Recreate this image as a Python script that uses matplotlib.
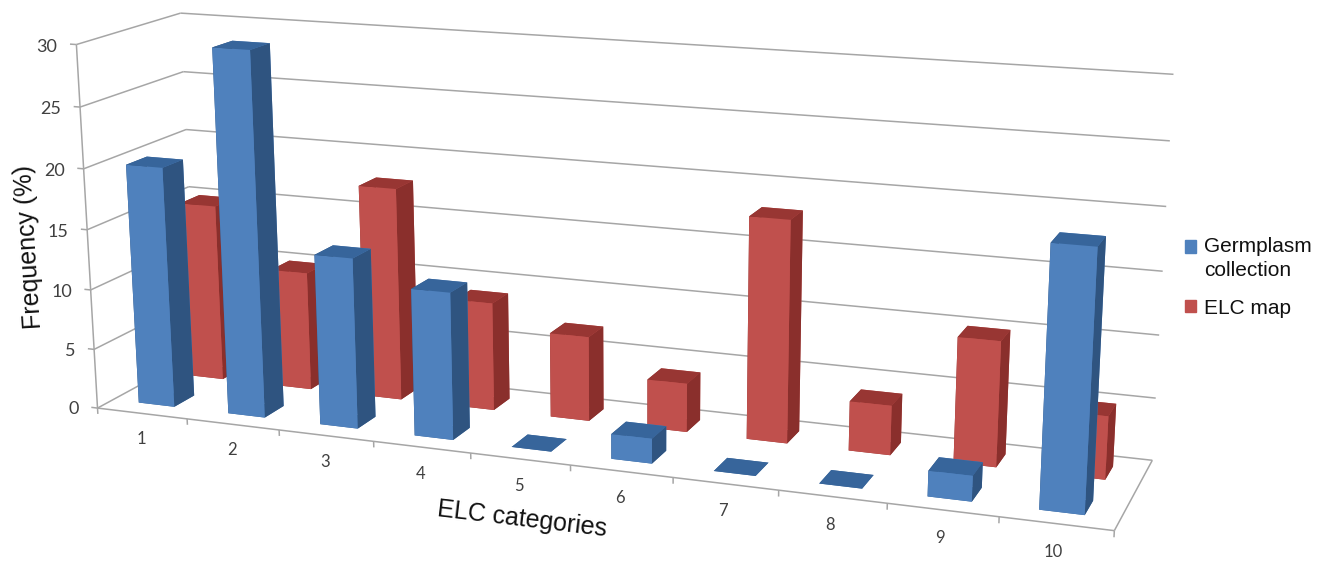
import numpy as np
import matplotlib
matplotlib.use("Agg")
import matplotlib.pyplot as plt
from matplotlib.patches import Patch
from mpl_toolkits.mplot3d.art3d import Line3DCollection

# Frequency (%) of each ELC category for the two series
categories = ["1", "2", "3", "4", "5", "6", "7", "8", "9", "10"]
germplasm = [20, 30, 14, 12, 0, 2, 0, 0, 2, 20]
elc_map = [15, 10, 17.8, 9, 7, 4, 18, 4, 10, 5]
value_ticks = [0, 5, 10, 15, 20, 25, 30]

W, H = 1323, 569
BLUE = {"front": "#4F81BD", "side": "#2F5480", "top": "#37659B"}
RED = {"front": "#C0504D", "side": "#8A2F2C", "top": "#983633"}
GRID = "#A6A6A6"
BAR_W, BAR_D = 0.40, 0.20
BAR_X, BLUE_Y, RED_Y = 0.29, 0.15, 0.65

# Camera calibration: box corners (category, depth, value) and where they fall in pixels
view_world = np.array([
    (0, 0, 30), (0, 1, 30), (0, 0, 0), (0, 1, 0), (10, 1, 30), (10, 1, 0),
    (10, 0, 0), (0, 0, 15), (10, 1, 15), (0, 1, 20), (0, 0, 20), (10, 1, 20),
], float)
view_px = np.array([
    (76, 45), (180, 13), (97, 408), (197, 355), (1173, 75), (1152, 459),
    (1114, 532), (87, 229), (1163, 271), (186, 130), (85, 168), (1167, 206),
], float)


def fit_camera(world, px):
    rows = []
    for (x, y, z), (u, v) in zip(world, px / 1000):
        rows.append([x, y, z, 1, 0, 0, 0, 0, -u * x, -u * y, -u * z, -u])
        rows.append([0, 0, 0, 0, x, y, z, 1, -v * x, -v * y, -v * z, -v])
    cam = np.linalg.svd(np.array(rows))[2][-1].reshape(3, 4)
    cam[:2] *= 1000
    if cam[2] @ np.array([5, 0.5, 15, 1]) < 0:
        cam = -cam
    return cam


cam = fit_camera(view_world, view_px)
# Depth row gives -1/w, which grows with distance from the camera
proj_matrix = np.vstack([cam[0], cam[1], [0, 0, 0, -1], cam[2]])


def fig_position(x, y, z):
    # Figure-fraction position of a point in the chart's box
    u, v, w = cam @ np.array([x, y, z, 1.0])
    return (u / w) / W, 1 - (v / w) / H


fig = plt.figure(figsize=(W / 100, H / 100), dpi=100, facecolor="white")
ax = fig.add_axes([0, 0, 1, 1], projection="3d", computed_zorder=False)
ax.set_axis_off()
ax.get_proj = lambda: proj_matrix
ax.apply_aspect = lambda *args, **kwargs: None
ax.viewLim.intervalx = (0, W)
ax.viewLim.intervaly = (H, 0)

n = len(categories)
# Walls, floor and tick marks
frame = []
for v in value_ticks:
    frame.append([(0, 0, v), (0, 1, v)])
    frame.append([(0, 1, v), (n, 1, v)])
    frame.append([(-0.07, 0, v), (0, 0, v)])
frame.append([(0, 0, 0), (0, 0, value_ticks[-1])])
frame.append([(0, 0, 0), (n, 0, 0)])
frame.append([(n, 0, 0), (n, 1, 0)])
for k in range(n + 1):
    frame.append([(k, 0, 0), (k, 0, -0.5)])
ax.add_collection3d(Line3DCollection(frame, colors=GRID, linewidths=1.1, zorder=1))


def draw_bar(i, value, y0, palette, order):
    # Face order in bar3d: bottom, top, front, back, left, right
    faces = [palette["top"], palette["top"], palette["front"],
             palette["front"], palette["side"], palette["side"]]
    ax.bar3d(i + BAR_X, y0, 0, BAR_W, BAR_D, value, color=faces, shade=False,
             edgecolor="none", zorder=order)


# Painted from far to near: back row first, right to left within a row
order = 2
for i in reversed(range(n)):
    draw_bar(i, elc_map[i], RED_Y, RED, order)
    order += 1
for i in reversed(range(n)):
    draw_bar(i, germplasm[i], BLUE_Y, BLUE, order)
    order += 1

for v in value_ticks:
    fx, fy = fig_position(-0.21, 0, v - 0.3)
    fig.text(fx, fy, str(v), ha="right", va="center", fontsize=13,
             family="Lato", color="#404040")
for i, label in enumerate(categories):
    fx, fy = fig_position(i + 0.48, 0, -2.2)
    fig.text(fx, fy, label, ha="center", va="center", fontsize=12,
             family="Lato", color="#404040")

fig.text(29 / W, 1 - 247 / H, "Frequency (%)", rotation=93.5, rotation_mode="anchor",
         ha="center", va="center", fontsize=18, family="Liberation Sans", color="#111111")
fig.text(522 / W, 1 - 519 / H, "ELC categories", rotation=-6.8, rotation_mode="anchor",
         ha="center", va="center", fontsize=18, family="Liberation Sans", color="#111111")

handles = [Patch(color=BLUE["front"], label="Germplasm\ncollection"),
           Patch(color=RED["front"], label="ELC map")]
legend = ax.legend(handles=handles, loc="upper left", bbox_to_anchor=(1185 / W, 1 - 237 / H),
                   bbox_transform=fig.transFigure, frameon=False,
                   prop={"family": "Liberation Sans", "size": 15},
                   handlelength=0.55, handleheight=0.55,
                   handletextpad=0.35, labelspacing=0.88, borderpad=0, borderaxespad=0,
                   labelcolor="#111111")
for text in legend.get_texts():
    text.set_linespacing(1.35)
# The marker of the two-line entry sits beside its first line
first_handle = legend.legend_handles[0]
first_handle.set_y(first_handle.get_y() + 9)

fig.savefig("out.png", dpi=100, facecolor="white")
